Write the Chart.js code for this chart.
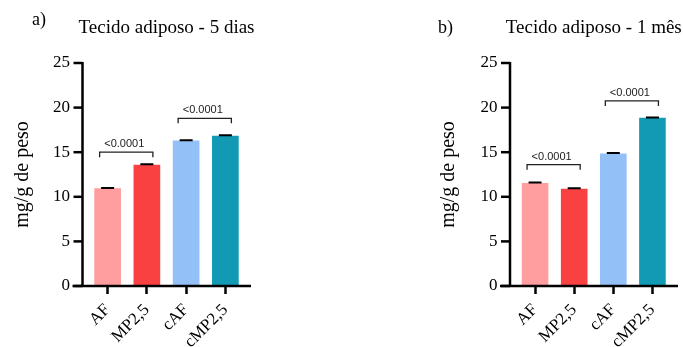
<!DOCTYPE html>
<html lang="pt-br">

<head>
    <meta charset="UTF-8">
    <title>Tecido adiposo</title>
    <script src="https://cdn.jsdelivr.net/npm/chart.js"></script>
    <style>
        body {
            margin: 0;
            background: #fff;
        }

        .painel {
            position: absolute;
            top: 0;
            height: 347px;
        }
    </style>
</head>

<body>

    <div class="painel" style="left: 0px; width: 300px;">
        <canvas id="grafico5dias" width="300" height="347"></canvas>
    </div>
    <div class="painel" style="left: 426px; width: 257px;">
        <canvas id="grafico1mes" width="257" height="347"></canvas>
    </div>

</body>

</html>

<script>
    const grupos = ['AF', 'MP2,5', 'cAF', 'cMP2,5']
    const cores = ['#ff9d9f', '#f94142', '#93c0f7', '#1299b4']

    const medias5dias = [10.95, 13.6, 16.3, 16.85]
    const erros5dias = [0.05, 0.05, 0.05, 0.05]
    const medias1mes = [11.55, 10.9, 14.85, 18.85]
    const erros1mes = [0.05, 0.05, 0.05, 0.05]

    // comparações: [grupo a, grupo b], altura da chave, p
    const pares = [[0, 1], [2, 3]]
    const alturas5dias = [15, 18.8]
    const alturas1mes = [13.6, 20.75]
    const pValores = ['<0.0001', '<0.0001']

    const yMin = 0
    const yMax = 25
    const yPasso = 5

    const serif = '"Liberation Serif", "Times New Roman", serif'
    const sans = '"Liberation Sans", Arial, sans-serif'

    function criarGrafico(id, titulo, letra, medias, erros, alturas, pos) {
        const extras = {
            id: 'extras',
            afterDraw(chart) {
                const ctx = chart.ctx
                const area = chart.chartArea
                const x = chart.scales.x
                const y = chart.scales.y
                const eixoX = area.left - 5.5

                ctx.save()
                ctx.strokeStyle = '#000'
                ctx.lineWidth = 2.5

                // eixo y e marcas
                ctx.beginPath()
                ctx.moveTo(eixoX, area.top - 1)
                ctx.lineTo(eixoX, area.bottom)
                ctx.stroke()
                y.ticks.forEach(function (t) {
                    const py = y.getPixelForValue(t.value)
                    ctx.beginPath()
                    ctx.moveTo(eixoX - 9, py)
                    ctx.lineTo(eixoX, py)
                    ctx.stroke()
                })

                // eixo x
                ctx.beginPath()
                ctx.moveTo(eixoX - 10, area.bottom)
                ctx.lineTo(area.right + 6, area.bottom)
                ctx.stroke()

                // barras de erro
                ctx.lineWidth = 2
                for (let i = 0; i < medias.length; i++) {
                    const px = x.getPixelForValue(i)
                    const topo = y.getPixelForValue(medias[i] + erros[i])
                    const base = y.getPixelForValue(medias[i])
                    ctx.beginPath()
                    ctx.moveTo(px, base)
                    ctx.lineTo(px, topo)
                    ctx.moveTo(px - 6.5, topo)
                    ctx.lineTo(px + 6.5, topo)
                    ctx.stroke()
                }

                // chaves de significância
                ctx.lineWidth = 1.3
                ctx.strokeStyle = '#222'
                ctx.fillStyle = '#222'
                ctx.font = '11px ' + sans
                ctx.textAlign = 'center'
                ctx.textBaseline = 'alphabetic'
                for (let i = 0; i < pares.length; i++) {
                    const x1 = x.getPixelForValue(pares[i][0]) - 8
                    const x2 = x.getPixelForValue(pares[i][1]) + 6
                    const py = y.getPixelForValue(alturas[i])
                    ctx.beginPath()
                    ctx.moveTo(x1, py + 5)
                    ctx.lineTo(x1, py)
                    ctx.lineTo(x2, py)
                    ctx.lineTo(x2, py + 5)
                    ctx.stroke()
                    ctx.fillText(pValores[i], (x1 + x2) / 2 - 2, py - 5)
                }

                // título e letra do painel
                ctx.fillStyle = '#000'
                ctx.font = '19px ' + serif
                ctx.textAlign = 'center'
                ctx.fillText(titulo, (area.left + area.right) / 2, 33)
                ctx.textAlign = 'left'
                ctx.font = '18px ' + serif
                ctx.fillText(letra, pos.letraX, pos.letraY)
                ctx.restore()
            }
        }

        new Chart(document.getElementById(id), {
            type: 'bar',
            data: {
                labels: grupos,
                datasets: [
                    {
                        data: medias,
                        backgroundColor: cores,
                        borderWidth: 0,
                        categoryPercentage: 1,
                        barPercentage: 0.68
                    }
                ]
            },
            options: {
                responsive: false,
                animation: false,
                layout: {
                    padding: { top: 63, right: pos.direita, bottom: 0, left: 0 }
                },
                plugins: {
                    legend: { display: false },
                    tooltip: { enabled: false }
                },
                scales: {
                    x: {
                        afterFit: function (scale) { scale.height = 61 },
                        border: { display: false },
                        grid: {
                            display: true,
                            drawOnChartArea: false,
                            drawTicks: true,
                            offset: false,
                            tickLength: 8,
                            tickWidth: 2.5,
                            tickColor: '#000'
                        },
                        ticks: {
                            color: '#000',
                            font: { family: serif, size: 17 },
                            minRotation: 45,
                            maxRotation: 45,
                            padding: 6
                        }
                    },
                    y: {
                        min: yMin,
                        max: yMax,
                        afterFit: function (scale) { scale.width = pos.larguraY },
                        border: { display: false },
                        grid: { display: false, drawTicks: false },
                        ticks: {
                            stepSize: yPasso,
                            color: '#000',
                            font: { family: serif, size: 17 },
                            padding: 18
                        },
                        title: {
                            display: true,
                            text: 'mg/g de peso',
                            color: '#000',
                            font: { family: serif, size: 20 },
                            padding: { top: 11, bottom: 0 }
                        }
                    }
                }
            },
            plugins: [extras]
        })
    }

    criarGrafico('grafico5dias', 'Tecido adiposo - 5 dias', 'a)', medias5dias, erros5dias, alturas5dias,
        { larguraY: 88, direita: 55, letraX: 32, letraY: 25 })
    criarGrafico('grafico1mes', 'Tecido adiposo - 1 mês', 'b)', medias1mes, erros1mes, alturas1mes,
        { larguraY: 89.5, direita: 11, letraX: 12, letraY: 33 })
</script>
